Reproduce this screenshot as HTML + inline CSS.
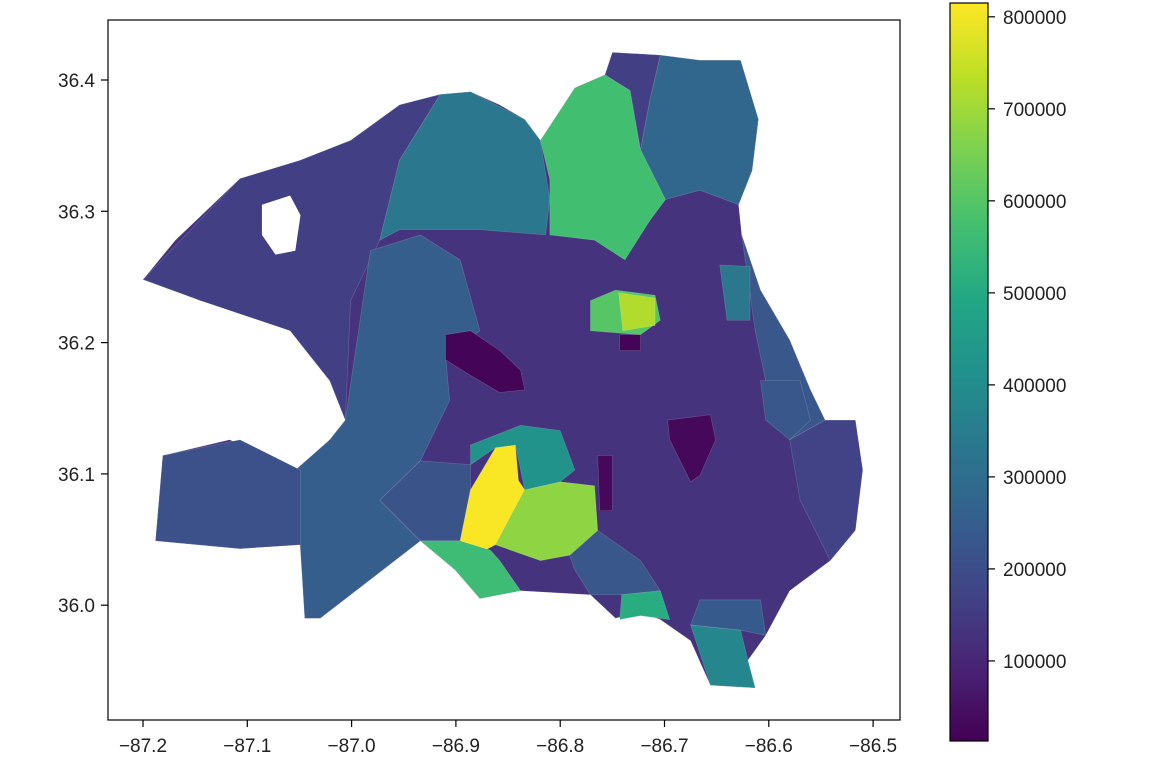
<!DOCTYPE html>
<html><head><meta charset="utf-8"><style>
html,body{margin:0;padding:0;background:#fff;}
svg{display:block;font-family:"Liberation Sans","DejaVu Sans",sans-serif;}
</style></head><body>
<svg id="chart" width="1171" height="779" viewBox="0 0 1171 779" xmlns="http://www.w3.org/2000/svg">
<defs>
<linearGradient id="vir" x1="0" y1="1" x2="0" y2="0">
<stop offset="0" stop-color="#440154"/><stop offset="0.1" stop-color="#482475"/><stop offset="0.2" stop-color="#414487"/><stop offset="0.3" stop-color="#355f8d"/><stop offset="0.4" stop-color="#2a788e"/><stop offset="0.5" stop-color="#21918c"/><stop offset="0.6" stop-color="#22a884"/><stop offset="0.7" stop-color="#44bf70"/><stop offset="0.8" stop-color="#7ad151"/><stop offset="0.9" stop-color="#bddf26"/><stop offset="1" stop-color="#fde725"/>
</linearGradient>
</defs>
<g id="map"></g>
<rect x="108" y="20" width="792" height="700" fill="none" stroke="#000" stroke-width="1.2"/>
<g id="xaxis"></g>
<g id="yaxis"></g>
<rect x="950" y="3" width="38" height="738" fill="url(#vir)" stroke="#000" stroke-width="1.2"/>
<g id="cbaxis"></g>
</svg>
<script>
const xTicks=[-87.2,-87.1,-87.0,-86.9,-86.8,-86.7,-86.6,-86.5];
const yTicks=[36.0,36.1,36.2,36.3,36.4];
const cbTicks=[100000,200000,300000,400000,500000,600000,700000,800000];
const vmin=13000, vmax=815000;
const regionValues=[130000,160000,330000,250000,210000,220000,230000,570000,280000,160000,230000,330000,170000,20000,30000,30000,810000,680000,560000,510000,380000,420000,600000,720000,20000,240000,230000,null];
const regionShapes=[
[[-87.200,36.248],[-87.169,36.278],[-87.107,36.325],[-87.090,36.316],[-87.049,36.339],[-87.001,36.354],[-86.954,36.381],[-86.915,36.389],[-86.886,36.391],[-86.858,36.381],[-86.834,36.370],[-86.819,36.354],[-86.786,36.394],[-86.757,36.404],[-86.750,36.421],[-86.704,36.419],[-86.666,36.415],[-86.627,36.415],[-86.610,36.370],[-86.616,36.331],[-86.629,36.305],[-86.626,36.282],[-86.608,36.240],[-86.580,36.202],[-86.560,36.164],[-86.546,36.141],[-86.517,36.141],[-86.510,36.103],[-86.517,36.057],[-86.541,36.034],[-86.580,36.011],[-86.603,35.977],[-86.620,35.958],[-86.613,35.937],[-86.656,35.939],[-86.675,35.973],[-86.704,35.989],[-86.723,35.995],[-86.747,35.990],[-86.771,36.008],[-86.838,36.011],[-86.877,36.005],[-86.901,36.027],[-86.934,36.049],[-87.030,35.990],[-87.045,35.990],[-87.049,36.046],[-87.107,36.043],[-87.188,36.049],[-87.181,36.114],[-87.117,36.126],[-87.049,36.103],[-87.021,36.126],[-87.006,36.141],[-87.021,36.171],[-87.040,36.190],[-87.059,36.209],[-87.086,36.217],[-87.145,36.232],[-87.184,36.244]],
[[-87.200,36.248],[-87.107,36.325],[-87.049,36.339],[-87.001,36.354],[-86.954,36.381],[-86.915,36.389],[-86.954,36.339],[-86.973,36.278],[-87.001,36.232],[-87.006,36.141],[-87.021,36.171],[-87.059,36.209],[-87.145,36.232]],
[[-86.915,36.389],[-86.886,36.391],[-86.834,36.370],[-86.819,36.354],[-86.810,36.309],[-86.814,36.282],[-86.877,36.286],[-86.954,36.286],[-86.973,36.278],[-86.954,36.339]],
[[-87.006,36.141],[-86.982,36.270],[-86.934,36.282],[-86.896,36.263],[-86.877,36.209],[-86.910,36.190],[-86.906,36.156],[-86.934,36.110],[-86.973,36.080],[-86.934,36.049],[-87.030,35.990],[-87.045,35.990],[-87.054,36.103],[-87.021,36.126]],
[[-87.181,36.114],[-87.107,36.126],[-87.049,36.103],[-87.049,36.046],[-87.107,36.043],[-87.188,36.049]],
[[-86.934,36.110],[-86.886,36.107],[-86.886,36.088],[-86.896,36.049],[-86.934,36.049],[-86.973,36.080]],
[[-86.791,36.038],[-86.764,36.057],[-86.723,36.034],[-86.704,36.011],[-86.741,36.008],[-86.771,36.008],[-86.786,36.027]],
[[-86.819,36.354],[-86.786,36.394],[-86.757,36.404],[-86.733,36.392],[-86.723,36.347],[-86.699,36.309],[-86.714,36.293],[-86.738,36.263],[-86.767,36.278],[-86.810,36.282],[-86.810,36.324]],
[[-86.704,36.419],[-86.666,36.415],[-86.627,36.415],[-86.610,36.370],[-86.616,36.331],[-86.629,36.305],[-86.666,36.316],[-86.699,36.309],[-86.723,36.347],[-86.714,36.385]],
[[-86.750,36.421],[-86.704,36.419],[-86.714,36.385],[-86.723,36.347],[-86.733,36.392],[-86.757,36.404]],
[[-86.626,36.282],[-86.608,36.240],[-86.580,36.202],[-86.560,36.164],[-86.546,36.141],[-86.580,36.126],[-86.599,36.156],[-86.613,36.209]],
[[-86.647,36.259],[-86.618,36.258],[-86.618,36.217],[-86.640,36.217]],
[[-86.580,36.126],[-86.546,36.141],[-86.517,36.141],[-86.510,36.103],[-86.517,36.057],[-86.541,36.034],[-86.570,36.080]],
[[-86.910,36.206],[-86.886,36.209],[-86.858,36.194],[-86.838,36.179],[-86.834,36.164],[-86.858,36.162],[-86.886,36.175],[-86.910,36.187]],
[[-86.697,36.141],[-86.656,36.145],[-86.651,36.126],[-86.666,36.099],[-86.675,36.094],[-86.685,36.110],[-86.695,36.126]],
[[-86.764,36.114],[-86.750,36.114],[-86.750,36.072],[-86.762,36.072]],
[[-86.896,36.049],[-86.886,36.088],[-86.862,36.120],[-86.843,36.122],[-86.840,36.095],[-86.834,36.088],[-86.862,36.046],[-86.872,36.042]],
[[-86.862,36.046],[-86.834,36.088],[-86.800,36.094],[-86.767,36.091],[-86.764,36.057],[-86.791,36.038],[-86.819,36.034]],
[[-86.934,36.049],[-86.896,36.049],[-86.867,36.042],[-86.858,36.034],[-86.838,36.011],[-86.877,36.005],[-86.901,36.027]],
[[-86.741,36.008],[-86.704,36.011],[-86.695,35.989],[-86.723,35.992],[-86.743,35.989]],
[[-86.675,35.985],[-86.627,35.981],[-86.620,35.958],[-86.613,35.937],[-86.656,35.939]],
[[-86.886,36.122],[-86.838,36.137],[-86.800,36.133],[-86.786,36.103],[-86.800,36.094],[-86.834,36.088],[-86.843,36.122],[-86.862,36.120],[-86.886,36.107]],
[[-86.771,36.232],[-86.747,36.240],[-86.709,36.236],[-86.704,36.217],[-86.723,36.206],[-86.771,36.209]],
[[-86.744,36.238],[-86.709,36.234],[-86.709,36.213],[-86.740,36.209]],
[[-86.743,36.206],[-86.723,36.206],[-86.723,36.194],[-86.743,36.194]],
[[-86.666,36.004],[-86.608,36.004],[-86.603,35.977],[-86.627,35.981],[-86.675,35.985]],
[[-86.608,36.171],[-86.570,36.171],[-86.560,36.141],[-86.580,36.126],[-86.603,36.141]],
[[-87.086,36.305],[-87.059,36.312],[-87.049,36.297],[-87.054,36.270],[-87.073,36.267],[-87.086,36.282]]
];
const NS='http://www.w3.org/2000/svg';
function xs(lon){return 143+(lon+87.2)*1043;}
function ys(lat){return 80+(36.4-lat)*1313;}
function cby(v){return 3+(vmax-v)/(vmax-vmin)*738;}
const stops=["#440154","#482475","#414487","#355f8d","#2a788e","#21918c","#22a884","#44bf70","#7ad151","#bddf26","#fde725"];
function hex(c){return [1,3,5].map(i=>parseInt(c.substr(i,2),16));}
function viridis(v){let t=Math.max(0,Math.min(1,(v-vmin)/(vmax-vmin)))*10;let i=Math.min(9,Math.floor(t)),f=t-i;const a=hex(stops[i]),b=hex(stops[i+1]);return 'rgb('+a.map((x,k)=>Math.round(x+(b[k]-x)*f)).join(',')+')';}
const map=document.getElementById('map');
regionShapes.forEach((s,i)=>{
 const p=document.createElementNS(NS,'polygon');
 p.setAttribute('points',s.map(q=>xs(q[0]).toFixed(1)+','+ys(q[1]).toFixed(1)).join(' '));
 const v=regionValues[i];
 p.setAttribute('fill',v===null?'#fff':viridis(v));
 p.setAttribute('stroke',v===null?'none':'rgba(255,255,255,0.18)');
 p.setAttribute('stroke-width','0.7');
 
 
 map.appendChild(p);
});
function txt(g,x,y,s,anchor){const t=document.createElementNS(NS,'text');t.setAttribute('x',x);t.setAttribute('y',y);t.setAttribute('font-size','19');t.setAttribute('fill','#222');t.setAttribute('text-anchor',anchor);t.textContent=s;return t;}
function line(x1,y1,x2,y2){const l=document.createElementNS(NS,'line');l.setAttribute('x1',x1);l.setAttribute('y1',y1);l.setAttribute('x2',x2);l.setAttribute('y2',y2);l.setAttribute('stroke','#000');l.setAttribute('stroke-width','1.2');return l;}
const xg=document.getElementById('xaxis');
xTicks.forEach(v=>{const x=xs(v);const l=line(x,720,x,727);xg.appendChild(l);
 const t=txt(xg,x,752,(v<0?'\u2212':'')+Math.abs(v).toFixed(1),'middle');xg.appendChild(t);});
const yg=document.getElementById('yaxis');
yTicks.forEach(v=>{const y=ys(v);const l=line(101,y,108,y);yg.appendChild(l);
 const t=txt(yg,95,y+7,v.toFixed(1),'end');yg.appendChild(t);});
const cg=document.getElementById('cbaxis');
cbTicks.forEach(v=>{const y=cby(v);const l=line(988,y,995,y);cg.appendChild(l);
 const t=txt(cg,1003,y+7,String(v),'start');cg.appendChild(t);});
</script>
</body></html>
